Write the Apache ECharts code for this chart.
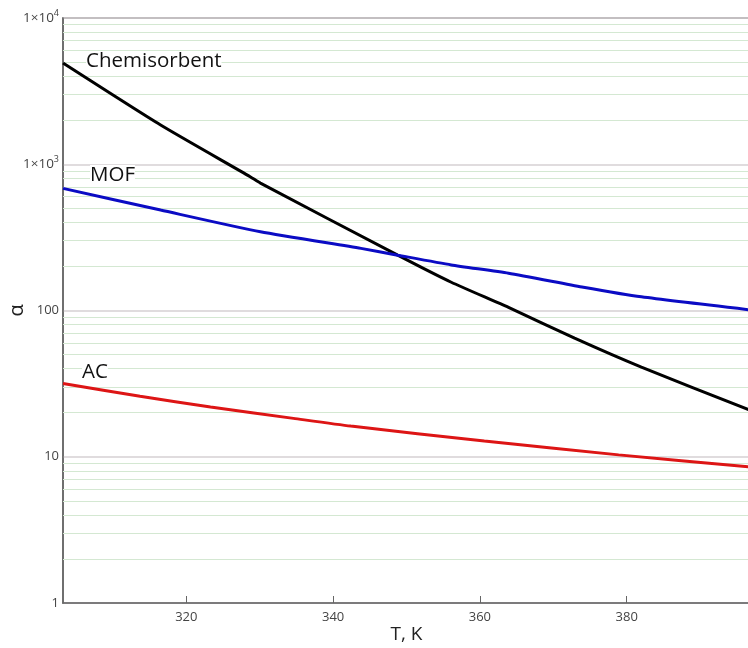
<!DOCTYPE html>
<html lang="en">
<head>
  <meta charset="utf-8">
  <title>alpha vs T</title>
  <style>
    html, body { margin: 0; padding: 0; background: #fff; }
    #chart1 { width: 748px; height: 648px; }
  </style>
</head>
<body>
<script src="https://cdn.jsdelivr.net/npm/echarts@6/dist/echarts.min.js"></script>
<div id="chart1"></div>
<script>
  // values: [T in K, alpha]
  var chemisorbent = [
    [303.2, 4920], [316.5, 1854], [328.7, 822], [330.1, 743], [348.8, 239],
    [356.1, 156], [363.9, 105], [372.9, 64.7], [382.0, 41.0], [396.8, 20.8]
  ];
  var mof = [
    [303.2, 684], [316.5, 486], [330.1, 345], [343.8, 266], [348.8, 239],
    [356.1, 205], [363.9, 180], [373.9, 145], [382.0, 124], [396.8, 101]
  ];
  var ac = [
    [303.2, 31.7], [313.7, 25.9], [323.3, 21.9], [334.6, 18.3], [342.4, 16.2],
    [360.6, 12.8], [378.9, 10.3], [396.8, 8.53]
  ];
  var xTicks = [320, 340, 360, 380];
  var decades = [1, 10, 100, 1000];
  var minorSteps = [2, 3, 4, 5, 6, 7, 8, 9];

  var FONT = '"Open Sans", "Noto Sans", sans-serif';

  // minor (green) grid lines at 2..9 of every decade
  var minorLines = [];
  decades.forEach(function (d) {
    minorSteps.forEach(function (m) { minorLines.push({ yAxis: d * m }); });
  });

  var chart1 = echarts.init(document.getElementById('chart1'));

  var option = {
    animation: false,
    grid: {
      left: 63, top: 18, right: -2, bottom: 45,
      outerBoundsMode: 'none',
      containLabel: false,
      show: true, borderColor: '#666', borderWidth: 1.5
    },
    xAxis: {
      type: 'value',
      min: 303.2,
      max: 396.8,
      name: 'T, K',
      nameLocation: 'middle',
      nameGap: 22,
      nameMoveOverlap: false,
      nameTextStyle: { fontFamily: FONT, fontSize: 19, color: '#222' },
      axisLine: { lineStyle: { color: '#666', width: 1.5 } },
      axisTick: { inside: true, length: 7, customValues: xTicks, lineStyle: { color: '#666' } },
      axisLabel: { customValues: xTicks, margin: 8, fontFamily: FONT, fontSize: 13, color: '#444' },
      splitLine: { show: false }
    },
    yAxis: {
      type: 'log',
      logBase: 10,
      min: 1,
      max: 10000,
      name: 'α',
      nameLocation: 'middle',
      nameGap: 36,
      nameMoveOverlap: false,
      nameRotate: 90,
      nameTextStyle: { fontFamily: FONT, fontSize: 20, color: '#222' },
      axisLine: { lineStyle: { color: '#666', width: 1.5 } },
      axisTick: { show: false },
      axisLabel: {
        margin: 4,
        fontFamily: FONT, fontSize: 13, color: '#444',
        formatter: function (v) {
          if (v >= 1000) {
            return '{b|1×10}{s|' + Math.round(Math.log10(v)) + '}';
          }
          return String(Math.round(v));
        },
        rich: {
          b: { fontFamily: FONT, fontSize: 13.5, color: '#444' },
          s: { fontFamily: FONT, fontSize: 9, color: '#444', verticalAlign: 'bottom', padding: [0, 0, 9, 0] }
        }
      },
      splitLine: { show: true, lineStyle: { color: '#d6d0d3', width: 1.5 } }
    },
    series: [
      {
        name: 'grid', type: 'line', data: [], silent: true, z: 1,
        markLine: {
          silent: true, symbol: 'none', label: { show: false },
          emphasis: { disabled: true },
          lineStyle: { color: '#d4e8d2', width: 1.2, type: 'solid' },
          data: minorLines
        }
      },
      {
        name: 'Chemisorbent', type: 'line', data: chemisorbent, showSymbol: false,
        smooth: 0.2, lineStyle: { color: '#000', width: 3 }, z: 5
      },
      {
        name: 'MOF', type: 'line', data: mof, showSymbol: false,
        smooth: 0.2, lineStyle: { color: '#0b0bc4', width: 3 }, z: 5
      },
      {
        name: 'AC', type: 'line', data: ac, showSymbol: false,
        smooth: 0.2, lineStyle: { color: '#dd1515', width: 3 }, z: 5
      }
    ],
    graphic: [
      { type: 'text', z: 100, left: 86, top: 51, style: { text: 'Chemisorbent', font: '20.5px ' + FONT, fill: '#111', backgroundColor: '#fff' } },
      { type: 'text', z: 100, left: 90, top: 165, style: { text: 'MOF', font: '20.5px ' + FONT, fill: '#111', backgroundColor: '#fff' } },
      { type: 'text', z: 100, left: 82, top: 362, style: { text: 'AC', font: '20.5px ' + FONT, fill: '#111', backgroundColor: '#fff' } }
    ]
  };
  chart1.setOption(option);
</script>
</body>
</html>
